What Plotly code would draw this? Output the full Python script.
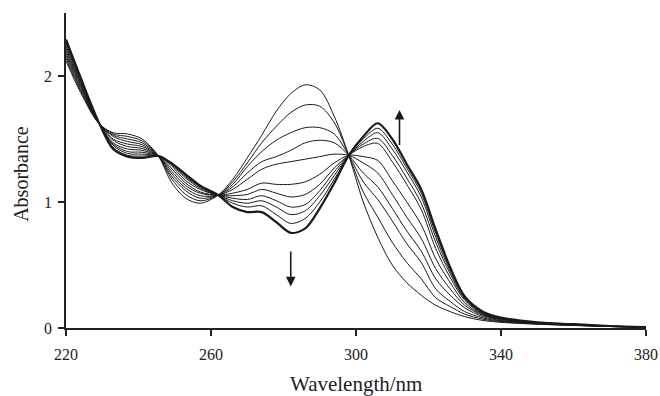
import plotly.graph_objects as go

wavelength = [220, 224, 229, 233, 237, 241, 245.5, 249, 253, 257, 262, 266, 270, 274, 278,
              282, 286, 290, 294, 298, 302, 306, 310, 314, 318, 322, 326, 330, 335, 340,
              350, 360, 370, 380]

# spectra, first (initial) to last (final, bold)
s0 = [2.12, 1.870, 1.625, 1.55, 1.54, 1.50, 1.365, 1.16, 1.03, 0.99, 1.055, 1.18, 1.35, 1.53, 1.72,
      1.86, 1.93, 1.89, 1.68, 1.37, 1.00, 0.72, 0.50, 0.36, 0.26, 0.18, 0.13, 0.09, 0.060, 0.045,
      0.030, 0.020, 0.012, 0.005]
s1 = [2.14, 1.885, 1.627, 1.54, 1.52, 1.485, 1.365, 1.19, 1.06, 1.01, 1.055, 1.16, 1.31, 1.47, 1.60,
      1.71, 1.77, 1.76, 1.63, 1.37, 1.08, 0.88, 0.68, 0.52, 0.39, 0.24, 0.17, 0.11, 0.070, 0.050,
      0.032, 0.021, 0.012, 0.005]
s2 = [2.16, 1.900, 1.628, 1.53, 1.50, 1.47, 1.365, 1.21, 1.09, 1.03, 1.055, 1.14, 1.28, 1.40, 1.49,
      1.55, 1.59, 1.59, 1.54, 1.37, 1.16, 1.02, 0.85, 0.67, 0.52, 0.31, 0.21, 0.13, 0.080, 0.055,
      0.034, 0.022, 0.013, 0.005]
s3 = [2.18, 1.915, 1.629, 1.52, 1.48, 1.455, 1.365, 1.23, 1.11, 1.05, 1.055, 1.12, 1.23, 1.32, 1.36,
      1.41, 1.47, 1.49, 1.47, 1.37, 1.23, 1.12, 0.95, 0.77, 0.61, 0.39, 0.26, 0.16, 0.090, 0.060,
      0.036, 0.023, 0.013, 0.006]
s4 = [2.20, 1.930, 1.630, 1.50, 1.46, 1.44, 1.365, 1.25, 1.13, 1.07, 1.055, 1.10, 1.18, 1.26, 1.30,
      1.32, 1.34, 1.36, 1.38, 1.37, 1.31, 1.23, 1.06, 0.88, 0.71, 0.47, 0.31, 0.18, 0.100, 0.065,
      0.038, 0.024, 0.014, 0.006]
s5 = [2.22, 1.940, 1.631, 1.49, 1.44, 1.425, 1.365, 1.27, 1.15, 1.08, 1.055, 1.07, 1.10, 1.15, 1.14,
      1.14, 1.16, 1.22, 1.31, 1.37, 1.36, 1.33, 1.17, 1.00, 0.82, 0.55, 0.36, 0.20, 0.105, 0.070,
      0.040, 0.025, 0.014, 0.006]
s6 = [2.24, 1.955, 1.632, 1.47, 1.42, 1.41, 1.365, 1.29, 1.17, 1.10, 1.055, 1.05, 1.06, 1.10, 1.07,
      1.04, 1.06, 1.14, 1.27, 1.37, 1.44, 1.465, 1.32, 1.14, 0.94, 0.63, 0.40, 0.22, 0.110, 0.072,
      0.041, 0.026, 0.015, 0.006]
s7 = [2.26, 1.965, 1.633, 1.46, 1.40, 1.395, 1.365, 1.30, 1.19, 1.11, 1.055, 1.03, 1.02, 1.05, 1.01,
      0.96, 0.98, 1.09, 1.24, 1.37, 1.46, 1.505, 1.37, 1.19, 0.99, 0.68, 0.43, 0.23, 0.115, 0.075,
      0.042, 0.027, 0.015, 0.006]
s8 = [2.27, 1.975, 1.634, 1.45, 1.385, 1.38, 1.365, 1.305, 1.20, 1.12, 1.055, 1.01, 0.99, 1.01, 0.96,
      0.90, 0.93, 1.05, 1.21, 1.37, 1.48, 1.55, 1.42, 1.24, 1.04, 0.72, 0.45, 0.24, 0.120, 0.078,
      0.043, 0.028, 0.016, 0.007]
s9 = [2.28, 1.985, 1.635, 1.435, 1.37, 1.365, 1.365, 1.31, 1.21, 1.125, 1.055, 0.99, 0.96, 0.97, 0.90,
      0.83, 0.87, 1.00, 1.18, 1.37, 1.50, 1.585, 1.46, 1.27, 1.07, 0.75, 0.47, 0.25, 0.125, 0.080,
      0.044, 0.029, 0.016, 0.007]
s10 = [2.29, 1.990, 1.636, 1.42, 1.36, 1.35, 1.365, 1.31, 1.22, 1.13, 1.055, 0.96, 0.92, 0.92, 0.84,
       0.755, 0.79, 0.95, 1.15, 1.37, 1.52, 1.625, 1.50, 1.30, 1.10, 0.78, 0.48, 0.25, 0.130, 0.082,
       0.045, 0.030, 0.016, 0.007]

spectra = [s0, s1, s2, s3, s4, s5, s6, s7, s8, s9, s10]

x_ticks = [220, 260, 300, 340, 380]
y_ticks = [0, 1, 2]

fig = go.Figure()
for i, s in enumerate(spectra):
    last = i == len(spectra) - 1
    fig.add_trace(go.Scatter(
        x=wavelength, y=s, mode="lines",
        line=dict(color="#1a1a1a", width=2.2 if last else 1.0, shape="spline", smoothing=0.9),
        showlegend=False, hoverinfo="skip"))

font_family = "Liberation Serif, Times New Roman, serif"

fig.update_layout(
    width=660, height=396,
    margin=dict(l=66, r=14, t=13, b=68),
    paper_bgcolor="white", plot_bgcolor="white",
    font=dict(family=font_family, size=16, color="#222"),
    xaxis=dict(range=[220, 380], tickvals=x_ticks, ticktext=[str(v) for v in x_ticks],
               showgrid=False, zeroline=False, showline=True, linecolor="#222", linewidth=1.5,
               ticks="outside", ticklen=6, tickwidth=1.5, tickcolor="#222",
               ticklabelstandoff=5, automargin=False),
    yaxis=dict(range=[0, 2.5], tickvals=y_ticks, ticktext=[str(v) for v in y_ticks],
               showgrid=False, zeroline=False, showline=True, linecolor="#222", linewidth=1.5,
               ticks="outside", ticklen=6, tickwidth=1.5, tickcolor="#222",
               ticklabelstandoff=3, automargin=False),
)

# axis titles
fig.add_annotation(text="Wavelength/nm", xref="paper", yref="paper", x=0.5, y=-0.178,
                   xanchor="center", yanchor="middle", showarrow=False,
                   font=dict(size=21, family=font_family, color="#222"))
fig.add_annotation(text="Absorbance", xref="paper", yref="paper", x=-0.079, y=0.49,
                   xanchor="center", yanchor="middle", textangle=-90, showarrow=False,
                   font=dict(size=20, family=font_family, color="#222"))

# arrows showing direction of change
fig.add_annotation(x=282, y=0.33, ax=282, ay=0.62, xref="x", yref="y", axref="x", ayref="y",
                   showarrow=True, arrowhead=2, arrowsize=1.2, arrowwidth=1.6, arrowcolor="#1a1a1a", text="")
fig.add_annotation(x=312, y=1.73, ax=312, ay=1.44, xref="x", yref="y", axref="x", ayref="y",
                   showarrow=True, arrowhead=2, arrowsize=1.2, arrowwidth=1.6, arrowcolor="#1a1a1a", text="")

fig.write_html("out.html", config={"displayModeBar": False},
               post_script="document.body.style.margin='0';document.body.style.padding='0';")
